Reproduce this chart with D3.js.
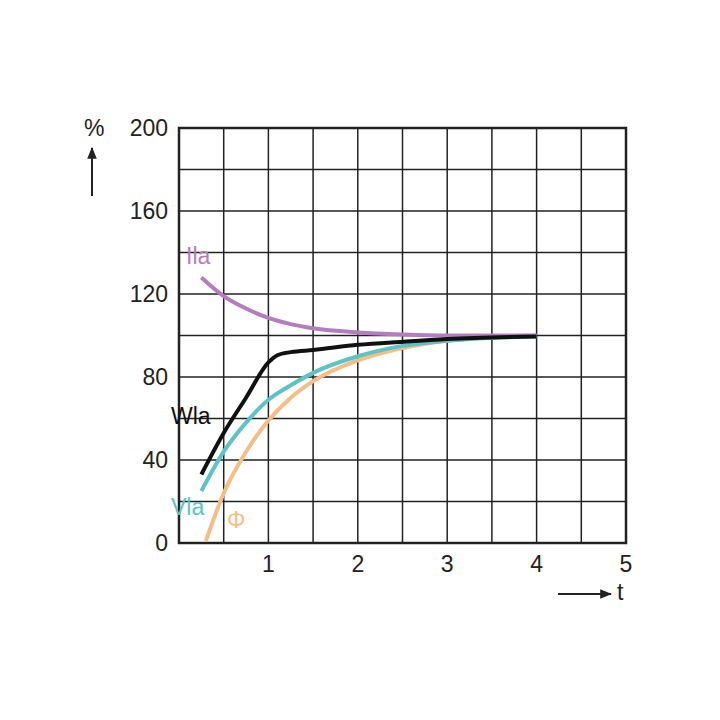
<!DOCTYPE html>
<html><head><meta charset="utf-8">
<script src="https://cdn.jsdelivr.net/npm/d3@7"></script>
<style>body{margin:0;background:#fff}</style></head>
<body><svg id="c" width="720" height="720"></svg>
<script>
const xTicks=[1,2,3,4,5];
const yTicks=[0,40,80,120,160,200];
const ila=[[0.25,128],[0.5,119],[0.75,113],[1,108.5],[1.25,105.5],[1.5,103.5],[2,101.5],[2.5,100.5],[3,100],[4,100]];
const wla=[[0.25,33],[0.5,53],[0.75,70],[1,87],[1.1,90.5],[1.25,92],[1.5,93],[2,95.5],[2.5,97],[3,98.3],[4,99.5]];
const vla=[[0.25,25],[0.5,44],[0.75,58],[1,69],[1.25,76],[1.5,82],[2,90],[2.5,95],[3,97.5],[4,99.5]];
const phi=[[0.3,1],[0.5,24],[0.75,44],[1,59],[1.25,70],[1.5,78],[2,88],[2.5,94],[3,97.5],[4,100]];
const svg=d3.select("#c");
const x=d3.scaleLinear().domain([0,5]).range([179,626]);
const y=d3.scaleLinear().domain([0,200]).range([543,128]);
const g=svg.append("g");
d3.range(0.5,5,0.5).forEach(v=>g.append("line").attr("x1",x(v)).attr("x2",x(v)).attr("y1",y(0)).attr("y2",y(200)).attr("stroke","#222").attr("stroke-width",1.5));
d3.range(20,200,20).forEach(v=>g.append("line").attr("x1",x(0)).attr("x2",x(5)).attr("y1",y(v)).attr("y2",y(v)).attr("stroke","#222").attr("stroke-width",1.5));
g.append("rect").attr("x",x(0)).attr("y",y(200)).attr("width",x(5)-x(0)).attr("height",y(0)-y(200)).attr("fill","none").attr("stroke","#222").attr("stroke-width",2.5);
const f="Liberation Sans, Arial, sans-serif";
xTicks.forEach(v=>svg.append("text").attr("x",x(v)).attr("y",572).attr("text-anchor","middle").attr("font-family",f).attr("font-size",23).attr("fill","#222").text(v));
yTicks.forEach(v=>svg.append("text").attr("x",168).attr("y",y(v)+8).attr("text-anchor","end").attr("font-family",f).attr("font-size",23).attr("fill","#222").text(v));
const line=d3.line().x(d=>x(d[0])).y(d=>y(d[1])).curve(d3.curveMonotoneX);
[[phi,"#f5be86"],[vla,"#5dc3c4"],[ila,"#b57dbf"],[wla,"#111"]].forEach(([d,c])=>svg.append("path").attr("d",line(d)).attr("fill","none").attr("stroke",c).attr("stroke-width",4));
const lab=(t,px,py,c)=>svg.append("text").attr("x",px).attr("y",py).attr("font-family",f).attr("font-size",23).attr("fill",c).text(t);
lab("Ila",186,264,"#b57dbf");lab("Wla",171,424,"#111");lab("Vla",171,515,"#5dc3c4");lab("Φ",227,528,"#f5be86");
lab("%",84,136,"#222");lab("t",617,600,"#222");
svg.append("defs").append("marker").attr("id","a").attr("viewBox","0 0 10 10").attr("refX",9).attr("refY",5).attr("markerWidth",6).attr("markerHeight",6).attr("orient","auto").append("path").attr("d","M0,1L10,5L0,9z").attr("fill","#222");
svg.append("line").attr("x1",92).attr("y1",196).attr("x2",92).attr("y2",148).attr("stroke","#222").attr("stroke-width",2).attr("marker-end","url(#a)");
svg.append("line").attr("x1",558).attr("y1",594).attr("x2",611).attr("y2",594).attr("stroke","#222").attr("stroke-width",2).attr("marker-end","url(#a)");
</script></body></html>
